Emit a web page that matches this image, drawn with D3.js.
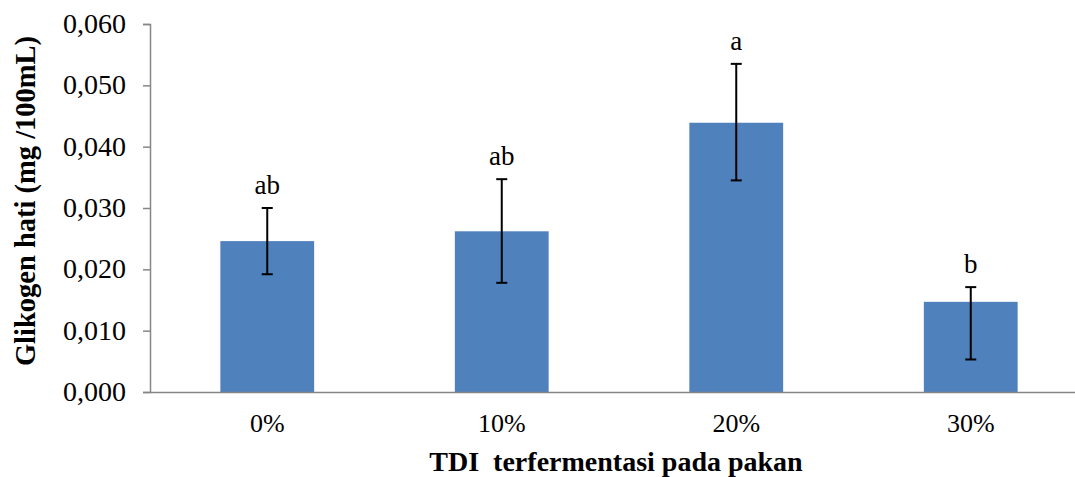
<!DOCTYPE html>
<html><head><meta charset="utf-8">
<script src="https://cdn.jsdelivr.net/npm/d3@7"></script>
<style>body{margin:0;background:#fff}svg{display:block}
svg text{font-family:"Liberation Serif","Times New Roman","DejaVu Serif",serif !important;}
</style>
</head><body>
<svg id="c" width="1075" height="477"></svg>
<script>
const categories = ["0%", "10%", "20%", "30%"];
const values = [0.0246, 0.0262, 0.0439, 0.0147];
const errUpper = [0.0300, 0.0347, 0.0535, 0.0171];
const errLower = [0.0192, 0.0178, 0.0345, 0.0053];
const letters = ["ab", "ab", "a", "b"];
const yTicks = [0, 0.01, 0.02, 0.03, 0.04, 0.05, 0.06];

const svg = d3.select("#c");
const mLeft = 150, mRight = 1088, mTop = 24, mBottom = 392;

const x = d3.scaleBand().domain(categories).range([mLeft, mRight]).paddingInner(0.6).paddingOuter(0.3);
const y = d3.scaleLinear().domain([0, 0.06]).range([mBottom, mTop]);
const fmt = v => d3.format(".3f")(v).replace(".", ",");

// y axis
const ya = svg.append("g").attr("transform", `translate(${mLeft},0)`)
  .call(d3.axisLeft(y).tickValues(yTicks).tickFormat(fmt).tickSize(7).tickPadding(17));
ya.select(".domain").attr("stroke", "#868686").attr("stroke-width", 1.5);
ya.selectAll(".tick line").attr("stroke", "#868686").attr("stroke-width", 1.5);
ya.selectAll(".tick text").attr("font-size", 28).attr("fill", "#000").attr("dy", "0.3em");

// bars
svg.append("g").selectAll("rect").data(categories).join("rect")
  .attr("x", d => x(d)).attr("width", x.bandwidth())
  .attr("y", (d, i) => y(values[i])).attr("height", (d, i) => y(0) - y(values[i]))
  .attr("fill", "#4F81BD");

// x axis
const xa = svg.append("g").attr("transform", `translate(0,${mBottom})`)
  .call(d3.axisBottom(x).tickSize(0).tickPadding(0));
xa.select(".domain").attr("stroke", "#868686").attr("stroke-width", 1.5);
xa.selectAll(".tick text").attr("font-size", 26).attr("fill", "#000").attr("dy", null).attr("y", 40);

// error bars
const eg = svg.append("g").attr("stroke", "#000").attr("stroke-width", 2);
categories.forEach((c, i) => {
  const cx = x(c) + x.bandwidth() / 2;
  eg.append("line").attr("x1", cx).attr("x2", cx).attr("y1", y(errUpper[i])).attr("y2", y(errLower[i]));
  eg.append("line").attr("x1", cx - 5.5).attr("x2", cx + 5.5).attr("y1", y(errUpper[i])).attr("y2", y(errUpper[i]));
  eg.append("line").attr("x1", cx - 5.5).attr("x2", cx + 5.5).attr("y1", y(errLower[i])).attr("y2", y(errLower[i]));
});

// significance letters
svg.append("g").selectAll("text").data(categories).join("text")
  .attr("x", d => x(d) + x.bandwidth() / 2)
  .attr("y", (d, i) => y(errUpper[i]) - 14)
  .attr("text-anchor", "middle").attr("font-size", 27)
  .text((d, i) => letters[i]);

// axis titles
svg.append("text").attr("x", 616).attr("y", 471)
  .attr("text-anchor", "middle").attr("font-size", 28).attr("font-weight", "bold")
  .style("white-space", "pre").text("TDI  terfermentasi pada pakan");
svg.append("text").attr("transform", `translate(35,201) rotate(-90)`)
  .attr("text-anchor", "middle").attr("font-size", 28.5).attr("font-weight", "bold")
  .text("Glikogen hati (mg /100mL)");
</script>
</body></html>
